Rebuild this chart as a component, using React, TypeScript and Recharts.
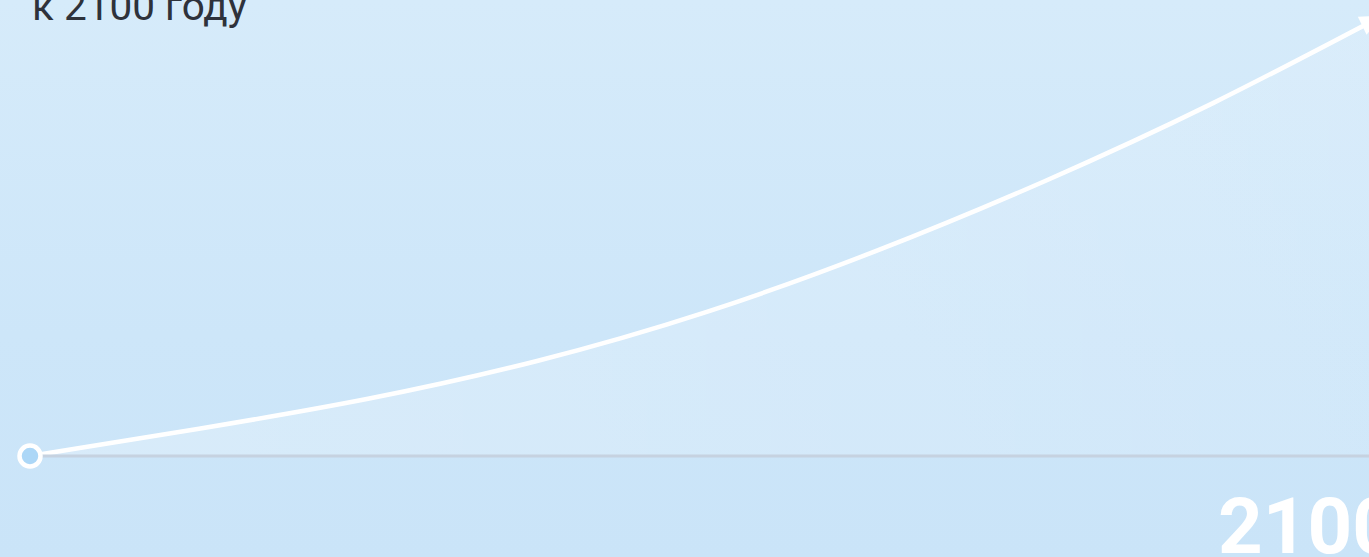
import React from 'react';
import { ComposedChart, Area, Line, XAxis, YAxis } from 'recharts';

// years along the x axis and the growth index (0 = start, 100 = 2100)
const years = [2020, 2030, 2040, 2050, 2060, 2070, 2080, 2090, 2100];
const growth = [0, 6.2, 13.0, 21.6, 32.7, 46.5, 62.4, 80.2, 100];
const yearTicks = [2100];
const title = 'к 2100 году';

const data = years.map((year, i) => ({ year, value: growth[i] }));

const W = 1369;
const H = 557;

const renderDot = (props: any) => {
  const { cx, cy, index } = props;
  if (index === 0) {
    return (
      <circle key="start" cx={cx} cy={cy} r={10.5} fill="#acd7f7" stroke="#ffffff" strokeWidth={4.5} />
    );
  }
  if (index === data.length - 1) {
    // arrow head pointing along the curve
    return (
      <g key="end" transform={`translate(${cx},${cy}) rotate(-26)`}>
        <polygon points="0,0 -22,-10 -22,10" fill="#ffffff" />
      </g>
    );
  }
  return <g key={`d-${index}`} />;
};

const YearTick = (props: any) => {
  const { x, y, payload } = props;
  return (
    <text
      x={x - 164}
      y={y}
      dy={95}
      textAnchor="start"
      fill="#ffffff"
      fontSize={78}
      fontWeight={700}
      fontFamily="Roboto, sans-serif"
    >
      {payload.value}
    </text>
  );
};

const App: React.FC = () => {
  return (
    <div
      style={{
        position: 'absolute',
        left: 0,
        top: 0,
        width: W,
        height: H,
        overflow: 'hidden',
        background: 'linear-gradient(180deg, #d6ebfa 0%, #cde6f9 60%, #cae4f8 100%)',
      }}
    >
      <ComposedChart width={1400} height={H} data={data} margin={{ top: 16, right: 18, bottom: 1, left: 30 }}>
        <defs>
          <linearGradient id="areaFill" x1="0" y1="0" x2="1" y2="0">
            <stop offset="0%" stopColor="#ffffff" stopOpacity={0.42} />
            <stop offset="100%" stopColor="#ffffff" stopOpacity={0.18} />
          </linearGradient>
        </defs>
        <XAxis
          type="number"
          dataKey="year"
          domain={[2020, 2100]}
          ticks={yearTicks}
          height={100}
          axisLine={{ stroke: '#c6d2e0', strokeWidth: 3 }}
          tickLine={false}
          tickSize={0}
          tick={<YearTick />}
        />
        <YAxis hide domain={[0, 100]} />
        <Area
          type="natural"
          dataKey="value"
          stroke="none"
          fill="url(#areaFill)"
          isAnimationActive={false}
        />
        <Line
          type="natural"
          dataKey="value"
          stroke="#ffffff"
          strokeWidth={4.5}
          dot={renderDot}
          activeDot={false}
          isAnimationActive={false}
        />
      </ComposedChart>
      <svg width={W} height={60} style={{ position: 'absolute', left: 0, top: 0 }}>
        <text x={32} y={20} fontSize={40.5} fill="#2e323b" fontFamily="Roboto, sans-serif">
          {title}
        </text>
      </svg>
    </div>
  );
};

export default App;
